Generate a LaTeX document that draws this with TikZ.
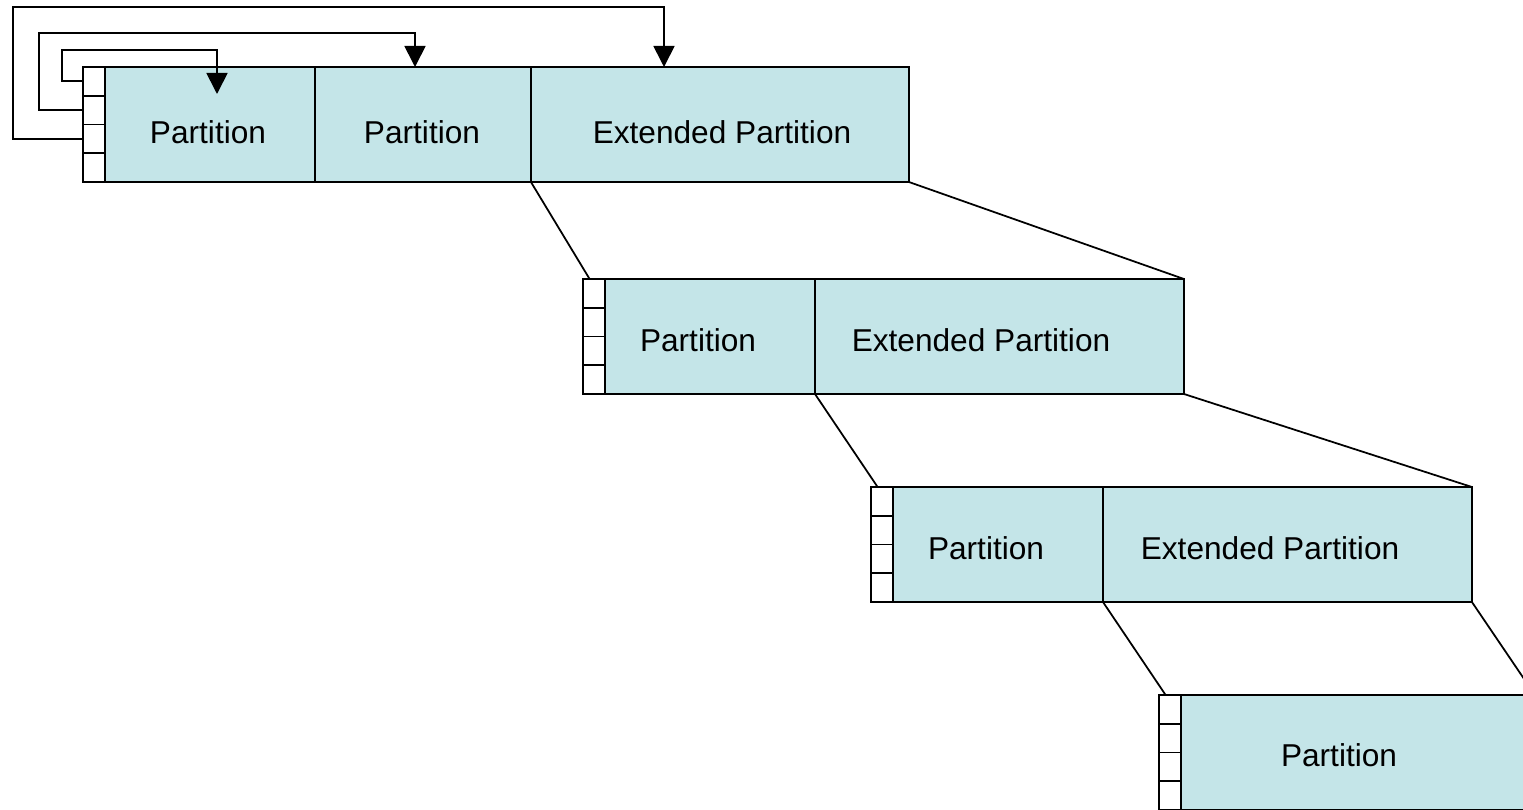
\documentclass[tikz,border=0pt]{standalone}
\usepackage{fontspec}
\setmainfont{Liberation Sans}
\usetikzlibrary{calc, positioning, arrows.meta}

\definecolor{PartFill}{RGB}{196,229,232}

\begin{document}
\begin{tikzpicture}[x=0.02cm, y=-0.02cm, line width=1pt]

\tikzset{
  cell/.style={
    draw=black,
    minimum width=0.44cm, minimum height=0.575cm,
    inner sep=0pt, outer sep=0pt, anchor=north west
  },
  partbox/.style={
    draw=black, fill=PartFill,
    minimum height=2.3cm,
    inner sep=0pt, outer sep=0pt, anchor=north west
  },
  partlabel/.style={
    font=\fontsize{18}{20}\selectfont, inner sep=0pt
  },
  ptr/.style={-{Triangle[width=0.42cm, length=0.42cm]}},
  link/.style={line cap=round}
}

\useasboundingbox (0,0) rectangle (1523,810);
\clip (0,0) rectangle (1523,810);

% boot record cells of each level
\foreach \r/\x/\y in {1/83/67, 2/583/279, 3/871/487, 4/1159/695} {
  \foreach \k in {1,...,4} {
    \node[cell] (c\r-\k) at (\x, {\y+28.75*(\k-1)}) {};
  }
}

% level 1
\node[partbox, minimum width=4.2cm]  (p1a) at (105,67) {};
\node[partbox, minimum width=4.32cm] (p1b) at (p1a.north east) {};
\node[partbox, minimum width=7.56cm] (e1)  at (p1b.north east) {};

% level 2
\node[partbox, minimum width=4.2cm]  (p2) at (605,279) {};
\node[partbox, minimum width=7.38cm] (e2) at (p2.north east) {};

% level 3
\node[partbox, minimum width=4.2cm]  (p3) at (893,487) {};
\node[partbox, minimum width=7.38cm] (e3) at (p3.north east) {};

% level 4
\node[partbox, minimum width=7.08cm] (p4) at (1181,695) {};

% labels
\node[partlabel] (l1a) at (208,132) {Partition};
\node[partlabel] (l1b) at (422,132) {Partition};
\node[partlabel] (l1e) at (722,132) {Extended Partition};
\node[partlabel] (l2a) at (698,340) {Partition};
\node[partlabel] (l2e) at (981,340) {Extended Partition};
\node[partlabel] (l3a) at (986,548) {Partition};
\node[partlabel] (l3e) at (1270,548) {Extended Partition};
\node[partlabel] (l4a) at (1339,755) {Partition};

% expansion lines
\draw[link] (e1.south west) -- ($(c2-1.north west)!0.3!(c2-1.north east)$);
\draw[link] (e1.south east) -- (e2.north east);
\draw[link] (e2.south west) -- ($(c3-1.north west)!0.3!(c3-1.north east)$);
\draw[link] (e2.south east) -- (e3.north east);
\draw[link] (e3.south west) -- ($(c4-1.north west)!0.3!(c4-1.north east)$);
\draw[link] (e3.south east) -- (p4.north east);

% pointers from the table entries
\coordinate (t1) at (217,94);
\coordinate (t2) at (415,67);
\coordinate (t3) at (664,67);
\draw[ptr] (c1-1.west) -| (62,50) -| (t1);
\draw[ptr] (c1-2.west) -| (39,33) -| (t2);
\draw[ptr] (c1-3.west) -| (13,7) -| (t3);

\end{tikzpicture}
\end{document}
